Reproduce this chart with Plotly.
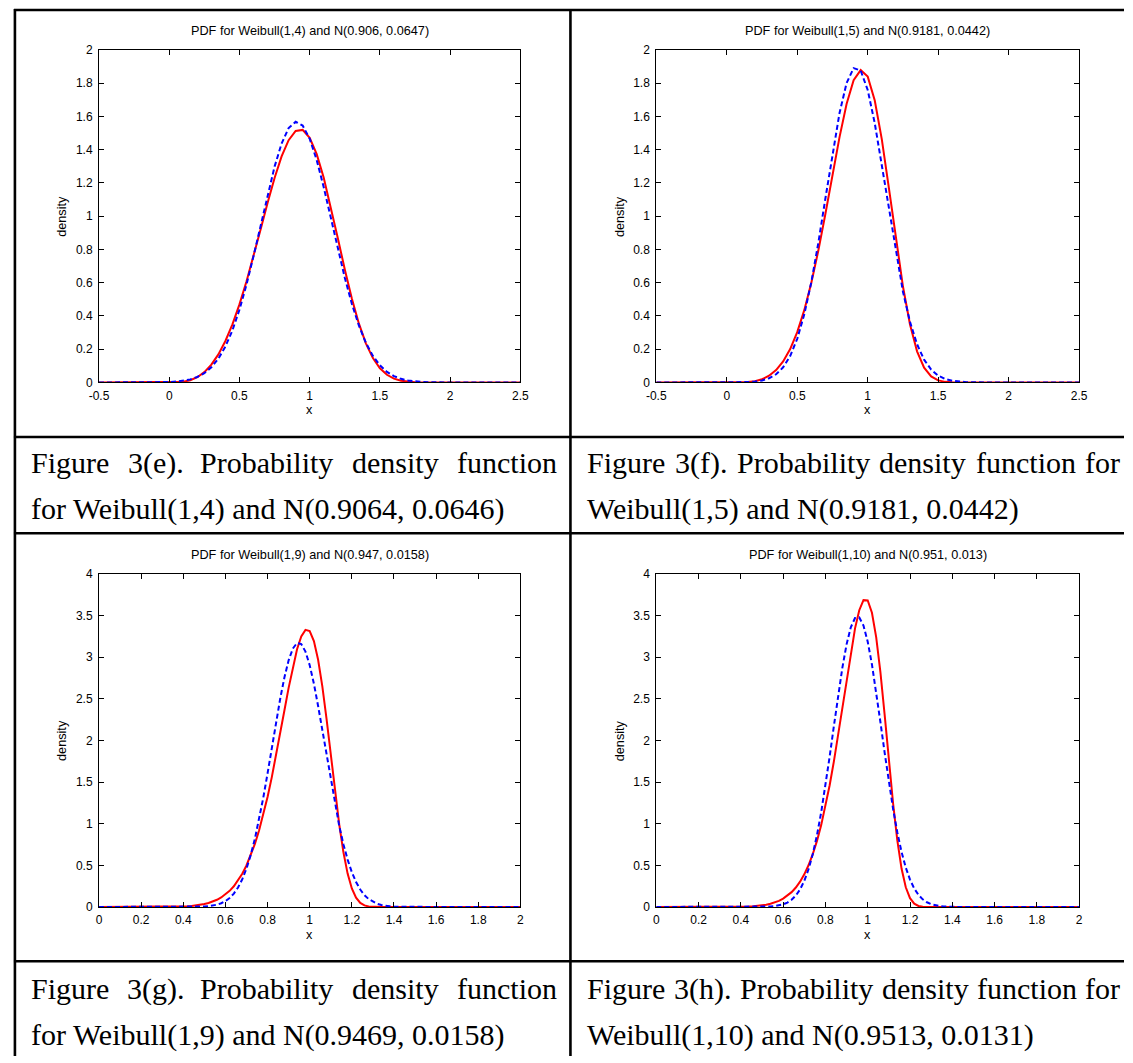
import plotly.graph_objects as go

W, H = 1133, 1063

# ---------------- data ----------------
X_TOP = [-0.5, -0.25, 0.0, 0.05, 0.1, 0.15, 0.2, 0.25, 0.3, 0.35, 0.4, 0.45, 0.5, 0.55,
         0.6, 0.65, 0.7, 0.75, 0.8, 0.85, 0.9, 0.95, 1.0, 1.05, 1.1, 1.15, 1.2, 1.25,
         1.3, 1.35, 1.4, 1.45, 1.5, 1.55, 1.6, 1.65, 1.7, 1.75, 1.8, 1.85, 1.9, 1.95,
         2.0, 2.25, 2.5]

WEIBULL_1_4 = [0, 0, 0, 0.0005, 0.004, 0.0135, 0.0319, 0.0623, 0.1071, 0.1689, 0.2495,
               0.3499, 0.4697, 0.6073, 0.7590, 0.9189, 1.0792, 1.2298, 1.3597, 1.4575,
               1.5130, 1.5188, 1.4715, 1.3732, 1.2314, 1.0582, 0.8691, 0.6800, 0.5052,
               0.3552, 0.2355, 0.1467, 0.0855, 0.0464, 0.0233, 0.0109, 0.0046, 0.0018,
               0.0006, 0.0002, 0.0001, 0, 0, 0, 0]
NORMAL_E = [0, 0.0001, 0.0027, 0.0054, 0.0103, 0.0188, 0.0332, 0.0561, 0.0915, 0.1434,
            0.2162, 0.3136, 0.4377, 0.5877, 0.7592, 0.9437, 1.1285, 1.2983, 1.4370,
            1.5303, 1.5679, 1.5455, 1.4657, 1.3374, 1.1740, 0.9915, 0.8057, 0.6298,
            0.4737, 0.3428, 0.2387, 0.1599, 0.1030, 0.0638, 0.0381, 0.0219, 0.0121,
            0.0064, 0.0033, 0.0016, 0.0008, 0.0003, 0.0002, 0, 0]

WEIBULL_1_5 = [0, 0, 0, 0, 0.0005, 0.0025, 0.0080, 0.0195, 0.0404, 0.0746, 0.1267,
               0.2013, 0.3029, 0.4351, 0.5995, 0.7948, 1.0148, 1.2478, 1.4757, 1.6747,
               1.8177, 1.8785, 1.8394, 1.6962, 1.4626, 1.1702, 0.8609, 0.5771, 0.3485,
               0.1874, 0.0887, 0.0364, 0.0128, 0.0038, 0.0009, 0.0002, 0, 0, 0, 0, 0,
               0, 0, 0, 0]
NORMAL_F = [0, 0, 0.0001, 0.0004, 0.0010, 0.0024, 0.0056, 0.0122, 0.0252, 0.0493,
            0.0911, 0.1591, 0.2627, 0.4098, 0.6040, 0.8415, 1.1079, 1.3784, 1.6206,
            1.8006, 1.8906, 1.8759, 1.7590, 1.5586, 1.3051, 1.0327, 0.7723, 0.5458,
            0.3645, 0.2300, 0.1372, 0.0773, 0.0412, 0.0207, 0.0099, 0.0044, 0.0019,
            0.0008, 0.0003, 0.0001, 0, 0, 0, 0, 0]

X_BOT = [0.0, 0.1, 0.2, 0.3,
         0.40, 0.42, 0.44, 0.46, 0.48, 0.50, 0.52, 0.54, 0.56, 0.58,
         0.60, 0.62, 0.64, 0.66, 0.68, 0.70, 0.72, 0.74, 0.76, 0.78,
         0.80, 0.82, 0.84, 0.86, 0.88, 0.90, 0.92, 0.94, 0.96, 0.98,
         1.00, 1.02, 1.04, 1.06, 1.08, 1.10, 1.12, 1.14, 1.16, 1.18,
         1.20, 1.22, 1.24, 1.26, 1.28, 1.30, 1.32, 1.34, 1.36, 1.38,
         1.40, 1.5, 1.6, 1.7, 1.8, 1.9, 2.0]

WEIBULL_1_9 = [0, 0, 0, 0.0006,
               0.0059, 0.0087, 0.0126, 0.0180, 0.0253, 0.0351, 0.0480, 0.0648, 0.0866, 0.1144,
               0.1496, 0.1939, 0.2488, 0.3164, 0.3988, 0.4983, 0.6169, 0.7572, 0.9205, 1.1081,
               1.3203, 1.5558, 1.8116, 2.0820, 2.3586, 2.6298, 2.8806, 3.0934, 3.2481, 3.3264,
               3.3109, 3.1918, 2.9675, 2.6480, 2.2567, 1.8252, 1.3923, 0.9936, 0.6580, 0.4008,
               0.2224, 0.1108, 0.0492, 0.0191, 0.0064, 0.0018, 0.0005, 0.0001, 0, 0,
               0, 0, 0, 0, 0, 0, 0]
NORMAL_G = [0, 0, 0, 0,
            0.0002, 0.0005, 0.0009, 0.0018, 0.0032, 0.0057, 0.0099, 0.0168, 0.0278, 0.0448,
            0.0704, 0.1079, 0.1611, 0.2346, 0.3331, 0.4612, 0.6224, 0.8189, 1.0508, 1.3144,
            1.6033, 1.9066, 2.2106, 2.4991, 2.7547, 2.9604, 3.1019, 3.1690, 3.1566, 3.0656,
            2.9029, 2.6800, 2.4124, 2.1172, 1.8118, 1.5116, 1.2296, 0.9752, 0.7542, 0.5686,
            0.4179, 0.2996, 0.2094, 0.1427, 0.0947, 0.0614, 0.0388, 0.0239, 0.0143, 0.0084,
            0.0048, 0.0002, 0, 0, 0, 0, 0]

WEIBULL_1_10 = [0, 0, 0, 0.0002,
                0.0026, 0.0041, 0.0062, 0.0092, 0.0135, 0.0195, 0.0277, 0.0390, 0.0540, 0.0740,
                0.1002, 0.1342, 0.1781, 0.2339, 0.3044, 0.3923, 0.5008, 0.6334, 0.7932, 0.9831,
                1.2055, 1.4609, 1.7481, 2.0624, 2.3955, 2.7338, 3.0581, 3.3439, 3.5620, 3.6829,
                3.6788, 3.5319, 3.2390, 2.8191, 2.3078, 1.7626, 1.2421, 0.7984, 0.4616, 0.2365,
                0.1056, 0.0402, 0.0128, 0.0033, 0.0007, 0.0001, 0, 0, 0, 0,
                0, 0, 0, 0, 0, 0, 0]
NORMAL_H = [0, 0, 0, 0,
            0, 0.0001, 0.0002, 0.0003, 0.0007, 0.0015, 0.0029, 0.0055, 0.0101, 0.0181,
            0.0314, 0.0528, 0.0863, 0.1367, 0.2099, 0.3129, 0.4523, 0.6341, 0.8624, 1.1373,
            1.4548, 1.8051, 2.1724, 2.5358, 2.8709, 3.1525, 3.3577, 3.4687, 3.4756, 3.3777,
            3.1840, 2.9110, 2.5814, 2.2204, 1.8523, 1.4988, 1.1763, 0.8955, 0.6611, 0.4735,
            0.3289, 0.2216, 0.1448, 0.0917, 0.0564, 0.0336, 0.0194, 0.0109, 0.0059, 0.0031,
            0.0016, 0, 0, 0, 0, 0, 0]

XTICKS_TOP = [-0.5, 0, 0.5, 1, 1.5, 2, 2.5]
XTICKTEXT_TOP = ["-0.5", "0", "0.5", "1", "1.5", "2", "2.5"]
YTICKS_TOP = [0, 0.2, 0.4, 0.6, 0.8, 1, 1.2, 1.4, 1.6, 1.8, 2]
YTICKTEXT_TOP = ["0", "0.2", "0.4", "0.6", "0.8", "1", "1.2", "1.4", "1.6", "1.8", "2"]
XTICKS_BOT = [0, 0.2, 0.4, 0.6, 0.8, 1, 1.2, 1.4, 1.6, 1.8, 2]
XTICKTEXT_BOT = ["0", "0.2", "0.4", "0.6", "0.8", "1", "1.2", "1.4", "1.6", "1.8", "2"]
YTICKS_BOT = [0, 0.5, 1, 1.5, 2, 2.5, 3, 3.5, 4]
YTICKTEXT_BOT = ["0", "0.5", "1", "1.5", "2", "2.5", "3", "3.5", "4"]

PLOT_TITLES = ["PDF for Weibull(1,4) and N(0.906, 0.0647)",
               "PDF for Weibull(1,5) and N(0.9181, 0.0442)",
               "PDF for Weibull(1,9) and N(0.947, 0.0158)",
               "PDF for Weibull(1,10) and N(0.951, 0.013)"]

CAPTION_LINE1 = [["Figure", "3(e).", "Probability", "density", "function"],
                 ["Figure", "3(f).", "Probability", "density", "function", "for"],
                 ["Figure", "3(g).", "Probability", "density", "function"],
                 ["Figure", "3(h).", "Probability", "density", "function", "for"]]
CAPTION_LINE2 = ["for Weibull(1,4) and N(0.9064, 0.0646)",
                 "Weibull(1,5) and N(0.9181, 0.0442)",
                 "for Weibull(1,9) and N(0.9469, 0.0158)",
                 "Weibull(1,10) and N(0.9513, 0.0131)"]

# ---------------- layout geometry (pixels) ----------------
CAPTION_WORD_X = [
    [18.9, 118.1, 190.8, 345.3, 452.6],
    [584.4, 673.9, 737.6, 882.2, 980.1, 1091.3],
    [18.9, 117.0, 190.8, 345.3, 452.6],
    [584.4, 673.0, 740.8, 884.5, 981.5, 1091.8],
]

panels = [
    dict(x=X_TOP, red=WEIBULL_1_4, blue=NORMAL_E, xpx=(90.5, 519.1), ypx=(43.5, 380.5),
         xr=[-0.5, 2.5], yr=[0, 2], xt=(XTICKS_TOP, XTICKTEXT_TOP), yt=(YTICKS_TOP, YTICKTEXT_TOP)),
    dict(x=X_TOP, red=WEIBULL_1_5, blue=NORMAL_F, xpx=(657.3, 1087.4), ypx=(43.5, 380.5),
         xr=[-0.5, 2.5], yr=[0, 2], xt=(XTICKS_TOP, XTICKTEXT_TOP), yt=(YTICKS_TOP, YTICKTEXT_TOP)),
    dict(x=X_BOT, red=WEIBULL_1_9, blue=NORMAL_G, xpx=(90.5, 519.1), ypx=(574.3, 912.0),
         xr=[0, 2], yr=[0, 4], xt=(XTICKS_BOT, XTICKTEXT_BOT), yt=(YTICKS_BOT, YTICKTEXT_BOT)),
    dict(x=X_BOT, red=WEIBULL_1_10, blue=NORMAL_H, xpx=(657.3, 1087.4), ypx=(574.3, 912.0),
         xr=[0, 2], yr=[0, 4], xt=(XTICKS_BOT, XTICKTEXT_BOT), yt=(YTICKS_BOT, YTICKTEXT_BOT)),
]


def fx(x):
    return x / W


def fy(y):
    return 1 - y / H


SANS = "Liberation Sans, Arial, Helvetica, sans-serif"
SERIF = "Liberation Serif, Times New Roman, serif"
TICK_FONT = dict(family=SANS, size=12, color="black")
LABEL_FONT = dict(family=SANS, size=12.7, color="black")

fig = go.Figure()
layout = dict(width=W, height=H, autosize=False, margin=dict(l=0, r=0, t=0, b=0),
              paper_bgcolor="white", plot_bgcolor="white", showlegend=False,
              hovermode=False)
annotations = []
shapes = []

for i, p in enumerate(panels, start=1):
    xa = "x" if i == 1 else f"x{i}"
    ya = "y" if i == 1 else f"y{i}"
    fig.add_trace(go.Scatter(x=p["x"], y=p["red"], mode="lines", xaxis=xa, yaxis=ya,
                             line=dict(color="#ff0000", width=2)))
    fig.add_trace(go.Scatter(x=p["x"], y=p["blue"], mode="lines", xaxis=xa, yaxis=ya,
                             line=dict(color="#0000ff", width=2, dash="5px,3px")))
    common = dict(showline=True, linecolor="black", linewidth=1, mirror="ticks",
                  ticks="inside", ticklen=5, tickwidth=1, tickcolor="black",
                  showgrid=False, zeroline=False, tickfont=TICK_FONT, fixedrange=True)
    layout[f"xaxis{i if i > 1 else ''}"] = dict(
        domain=[fx(p["xpx"][0]), fx(p["xpx"][1])], anchor=ya, range=p["xr"],
        tickmode="array", tickvals=p["xt"][0], ticktext=p["xt"][1],
        ticklabelstandoff=2, **common)
    layout[f"yaxis{i if i > 1 else ''}"] = dict(
        domain=[fy(p["ypx"][1]), fy(p["ypx"][0])], anchor=xa, range=p["yr"],
        tickmode="array", tickvals=p["yt"][0], ticktext=p["yt"][1],
        ticklabelstandoff=3, **common)

    cx = (p["xpx"][0] + p["xpx"][1]) / 2
    cy = (p["ypx"][0] + p["ypx"][1]) / 2
    annotations.append(dict(text=PLOT_TITLES[i - 1], xref="paper", yref="paper",
                            x=fx(cx), y=fy(p["ypx"][0] - 19), xanchor="center", yanchor="middle",
                            showarrow=False, font=LABEL_FONT))
    annotations.append(dict(text="x", xref="paper", yref="paper",
                            x=fx(cx), y=fy(p["ypx"][1] + 28), xanchor="center", yanchor="middle",
                            showarrow=False, font=LABEL_FONT))
    annotations.append(dict(text="density", xref="paper", yref="paper", textangle=-90,
                            x=fx(p["xpx"][0] - 37), y=fy(cy), xanchor="center", yanchor="middle",
                            showarrow=False, font=LABEL_FONT))

# captions (line 1 is justified in the reference, so words are placed one by one)
caption_rows = [(461.7, 508.3), (995.0, 1041.7)]
for k in range(4):
    y1, y2 = caption_rows[k // 2]
    xs = CAPTION_WORD_X[k]
    for wtxt, wx in zip(CAPTION_LINE1[k], xs):
        annotations.append(dict(text=wtxt, xref="paper", yref="paper", x=fx(wx), y=fy(y1),
                                xanchor="left", yanchor="middle", showarrow=False,
                                font=dict(family=SERIF, size=30, color="black")))
    annotations.append(dict(text=CAPTION_LINE2[k], xref="paper", yref="paper", x=fx(xs[0]),
                            y=fy(y2), xanchor="left", yanchor="middle", showarrow=False,
                            font=dict(family=SERIF, size=30, color="black")))

# table rules
LW = 2.6
for yy in (3.0, 435.7, 533.3, 967.0):
    shapes.append(dict(type="line", xref="paper", yref="paper", x0=fx(4), x1=1.0,
                       y0=fy(yy), y1=fy(yy), line=dict(color="black", width=LW)))
for xx in (5.0, 570.0):
    shapes.append(dict(type="line", xref="paper", yref="paper", x0=fx(xx), x1=fx(xx),
                       y0=fy(2), y1=0.0, line=dict(color="black", width=LW)))

layout["annotations"] = annotations
layout["shapes"] = shapes
fig.update_layout(**layout)

fig.write_html("out.html", config={"displayModeBar": False, "staticPlot": True})
